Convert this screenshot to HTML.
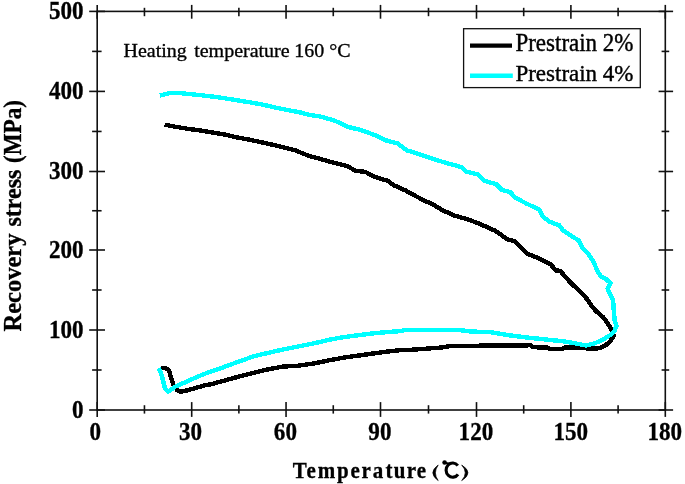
<!DOCTYPE html>
<html><head><meta charset="utf-8"><style>
html,body{margin:0;padding:0;background:#fff;}
svg{display:block;}
text{font-family:"Liberation Serif",serif;fill:#000;}
.b{font-weight:bold;font-size:23.1px;stroke:#000;stroke-width:0.3px;}
.r{stroke:#000;stroke-width:0.25px;}
</style></head><body>
<svg width="685" height="484" viewBox="0 0 685 484">
<defs><filter id="bl" x="-5%" y="-5%" width="110%" height="110%"><feGaussianBlur stdDeviation="0.35"/></filter></defs>
<rect width="685" height="484" fill="#fff"/>
<g stroke="#111" stroke-width="1.6" fill="none">
<rect x="97.2" y="11.4" width="568.10" height="398.60"/>
<line x1="97.20" y1="402.1" x2="97.20" y2="416.9"/><line x1="97.20" y1="4.9" x2="97.20" y2="18.7"/><line x1="144.45" y1="405.2" x2="144.45" y2="413.6"/><line x1="144.45" y1="7.8" x2="144.45" y2="16.2"/><line x1="191.70" y1="402.1" x2="191.70" y2="416.9"/><line x1="191.70" y1="4.9" x2="191.70" y2="18.7"/><line x1="238.88" y1="405.2" x2="238.88" y2="413.6"/><line x1="238.88" y1="7.8" x2="238.88" y2="16.2"/><line x1="286.05" y1="402.1" x2="286.05" y2="416.9"/><line x1="286.05" y1="4.9" x2="286.05" y2="18.7"/><line x1="333.27" y1="405.2" x2="333.27" y2="413.6"/><line x1="333.27" y1="7.8" x2="333.27" y2="16.2"/><line x1="380.50" y1="402.1" x2="380.50" y2="416.9"/><line x1="380.50" y1="4.9" x2="380.50" y2="18.7"/><line x1="428.50" y1="405.2" x2="428.50" y2="413.6"/><line x1="428.50" y1="7.8" x2="428.50" y2="16.2"/><line x1="476.50" y1="402.1" x2="476.50" y2="416.9"/><line x1="476.50" y1="4.9" x2="476.50" y2="18.7"/><line x1="523.70" y1="405.2" x2="523.70" y2="413.6"/><line x1="523.70" y1="7.8" x2="523.70" y2="16.2"/><line x1="570.90" y1="402.1" x2="570.90" y2="416.9"/><line x1="570.90" y1="4.9" x2="570.90" y2="18.7"/><line x1="618.10" y1="405.2" x2="618.10" y2="413.6"/><line x1="618.10" y1="7.8" x2="618.10" y2="16.2"/><line x1="665.30" y1="402.1" x2="665.30" y2="416.9"/><line x1="665.30" y1="4.9" x2="665.30" y2="18.7"/><line x1="89.2" y1="410.00" x2="105" y2="410.00"/><line x1="658.6" y1="410.00" x2="673.1" y2="410.00"/><line x1="92.1" y1="370.00" x2="101.6" y2="370.00"/><line x1="661.6" y1="370.00" x2="669.2" y2="370.00"/><line x1="89.2" y1="330.00" x2="105" y2="330.00"/><line x1="658.6" y1="330.00" x2="673.1" y2="330.00"/><line x1="92.1" y1="290.00" x2="101.6" y2="290.00"/><line x1="661.6" y1="290.00" x2="669.2" y2="290.00"/><line x1="89.2" y1="250.00" x2="105" y2="250.00"/><line x1="658.6" y1="250.00" x2="673.1" y2="250.00"/><line x1="92.1" y1="210.75" x2="101.6" y2="210.75"/><line x1="661.6" y1="210.75" x2="669.2" y2="210.75"/><line x1="89.2" y1="171.50" x2="105" y2="171.50"/><line x1="658.6" y1="171.50" x2="673.1" y2="171.50"/><line x1="92.1" y1="131.45" x2="101.6" y2="131.45"/><line x1="661.6" y1="131.45" x2="669.2" y2="131.45"/><line x1="89.2" y1="91.40" x2="105" y2="91.40"/><line x1="658.6" y1="91.40" x2="673.1" y2="91.40"/><line x1="92.1" y1="51.40" x2="101.6" y2="51.40"/><line x1="661.6" y1="51.40" x2="669.2" y2="51.40"/><line x1="89.2" y1="11.40" x2="105" y2="11.40"/><line x1="658.6" y1="11.40" x2="673.1" y2="11.40"/>
</g>
<g filter="url(#bl)">
<g class="b"><text transform="translate(95.2,440.0) scale(1,1.07)" text-anchor="middle">0</text><text transform="translate(190.5,440.0) scale(1,1.07)" text-anchor="middle">30</text><text transform="translate(285.4,440.0) scale(1,1.07)" text-anchor="middle">60</text><text transform="translate(379.9,440.0) scale(1,1.07)" text-anchor="middle">90</text><text transform="translate(475.9,440.0) scale(1,1.07)" text-anchor="middle">120</text><text transform="translate(570.7,440.0) scale(1,1.07)" text-anchor="middle">150</text><text transform="translate(664.8,440.0) scale(1,1.07)" text-anchor="middle">180</text><text transform="translate(83.6,417.5) scale(1,1.07)" text-anchor="end">0</text><text transform="translate(83.6,337.5) scale(1,1.07)" text-anchor="end">100</text><text transform="translate(83.6,257.5) scale(1,1.07)" text-anchor="end">200</text><text transform="translate(83.6,179.0) scale(1,1.07)" text-anchor="end">300</text><text transform="translate(83.6,98.9) scale(1,1.07)" text-anchor="end">400</text><text transform="translate(83.6,18.9) scale(1,1.07)" text-anchor="end">500</text></g>
<g style="font-size:21px;stroke:#000;stroke-width:0.35px"><text class="b" transform="translate(292.7,478) scale(1,1.11)" style="font-size:21px" textLength="90.5" lengthAdjust="spacing">Tempera</text>
<text class="b" transform="translate(385.4,478) scale(1,1.11)" style="font-size:21px" textLength="40.8" lengthAdjust="spacing">ture</text></g>
<path d="M438.2,465 Q427.4,472.8 438.2,480.6 Q432.6,472.8 438.2,465 Z" fill="#000" stroke="#000" stroke-width="0.7"/>
<path d="M461.7,465 Q474.2,472.8 461.7,480.6 Q468.8,472.8 461.7,465 Z" fill="#000" stroke="#000" stroke-width="0.7"/>
<path d="M457.8,465.6 A6.6,7.1 0 1 0 458,474.3" fill="none" stroke="#000" stroke-width="3.1"/>
<circle cx="444.6" cy="462.5" r="2.3" fill="#000"/>
<path d="M445,463 L449,463.6" stroke="#000" stroke-width="2" fill="none"/>
<text class="b" transform="translate(21.1,331.5) rotate(-90) scale(1,1.11)" textLength="98" lengthAdjust="spacingAndGlyphs" style="font-size:23.5px">Recovery</text>
<text class="b" transform="translate(21.1,226.5) rotate(-90) scale(1,1.11)" textLength="56.8" lengthAdjust="spacingAndGlyphs" style="font-size:23.5px">stress</text>
<text class="b" transform="translate(21.1,163) rotate(-90) scale(1,1.11)" textLength="63" lengthAdjust="spacingAndGlyphs" style="font-size:23.5px">(MPa)</text>
<text class="r" transform="translate(0,56.9) scale(1,0.96)" style="font-size:20px;stroke-width:0.35px"><tspan x="123.5">Heating</tspan><tspan x="194.2">temperature</tspan><tspan x="294.2">160 °C</tspan></text>
</g>
<polyline points="160.7,367.8 165.3,367.8 168.9,370.3 170.4,375.4 172.0,380.5 173.5,384.6 176.6,389.7 180.7,391.8 185.8,390.7 196.0,387.9 206.2,384.9 210.0,384.5 224.6,380.5 239.2,376.5 253.8,372.8 268.4,369.3 283.0,366.6 297.6,365.8 314.6,363.3 329.2,360.3 343.8,357.6 358.4,355.6 373.0,353.5 387.6,351.5 400.0,350.2 405.4,350.2 423.0,348.9 440.6,347.6 450.6,346.1 465.7,345.9 492.8,345.5 530.7,345.3 532.6,347.2 547.8,347.6 549.7,348.7 563.0,348.7 564.9,347.6 582.0,347.6 588.6,348.8 599.8,348.2 605.4,345.4 610.0,341.7 613.8,336.1 611.9,330.5 607.5,323.0 602.9,317.0 595.8,310.9 590.7,304.7 587.6,299.6 580.4,292.0 570.2,282.3 560.2,270.8 556.0,270.4 550.5,264.2 538.0,258.0 526.7,253.4 514.1,240.9 507.8,239.6 495.3,230.8 480.2,224.1 467.7,219.3 455.1,215.8 442.6,210.3 430.0,202.7 425.5,201.2 415.4,195.9 405.4,190.4 394.1,185.4 387.8,180.9 372.8,176.1 365.2,171.8 355.2,170.8 347.7,166.1 335.1,163.1 322.6,159.6 310.0,156.1 305.7,154.6 295.6,150.5 288.1,148.4 275.5,145.4 263.0,142.6 250.4,139.9 237.9,137.6 225.3,134.7 212.8,132.6 200.2,130.5 187.7,128.8 175.1,126.7 164.6,124.7" fill="none" stroke="#000" stroke-width="4.4" stroke-linejoin="round" stroke-linecap="butt" shape-rendering="crispEdges"/>
<polyline points="158.7,368.3 161.2,373.4 163.3,381.6 164.8,387.7 167.9,391.8 175.5,386.5 185.8,382.0 196.0,377.4 206.2,373.2 210.0,372.0 224.6,366.8 239.2,361.4 253.8,356.3 268.4,352.8 283.0,349.5 297.6,346.6 314.6,343.2 329.2,339.7 343.8,337.1 358.4,335.2 373.0,333.4 387.6,332.0 400.0,331.2 405.4,330.0 423.0,329.7 440.6,329.7 460.6,330.2 470.7,331.5 490.9,332.2 508.0,335.1 526.9,337.5 545.9,339.5 564.9,341.5 576.3,343.6 585.8,345.5 594.2,343.5 602.6,339.8 610.0,335.2 614.7,330.5 616.5,325.9 614.7,320.3 613.8,311.0 613.2,300.7 610.0,294.2 607.6,288.6 610.6,283.4 606.3,279.3 600.7,276.5 597.1,270.2 593.3,261.4 588.3,253.9 582.0,247.1 578.8,240.5 570.7,235.5 563.1,230.3 559.3,225.3 549.3,221.6 543.0,216.5 539.2,209.5 526.7,203.7 515.4,197.7 510.3,192.2 501.6,189.7 496.5,184.4 484.0,180.6 477.7,174.4 466.4,171.6 461.4,167.1 445.1,162.6 430.0,158.0 415.4,153.0 406.7,150.3 397.9,143.5 385.3,140.2 375.3,135.2 360.2,129.9 347.7,126.8 335.1,120.8 320.0,116.4 310.0,115.0 300.6,112.5 288.1,110.1 275.5,107.6 263.0,104.7 250.4,102.4 237.9,100.4 225.3,98.4 212.8,96.6 200.2,95.1 187.7,93.9 176.4,92.8 168.8,93.3 160.0,95.6" fill="none" stroke="#00ffff" stroke-width="4.4" stroke-linejoin="round" stroke-linecap="butt" shape-rendering="crispEdges"/>
<rect x="463.6" y="28.7" width="176.7" height="58.9" fill="#fff" stroke="#111" stroke-width="1.3"/>
<line x1="470" y1="45.6" x2="512" y2="45.6" stroke="#000" stroke-width="4.2"/>
<line x1="470" y1="75.8" x2="512.8" y2="75.8" stroke="#00ffff" stroke-width="4.4"/>
<g filter="url(#bl)"><text class="r" transform="translate(515.4,51) scale(1,1.06)" style="font-size:23px;stroke-width:0.4px">Prestrain 2%</text>
<text class="r" transform="translate(515.4,80.8) scale(1,1.04)" style="font-size:23px;stroke-width:0.4px">Prestrain 4%</text></g>
</svg>
</body></html>
